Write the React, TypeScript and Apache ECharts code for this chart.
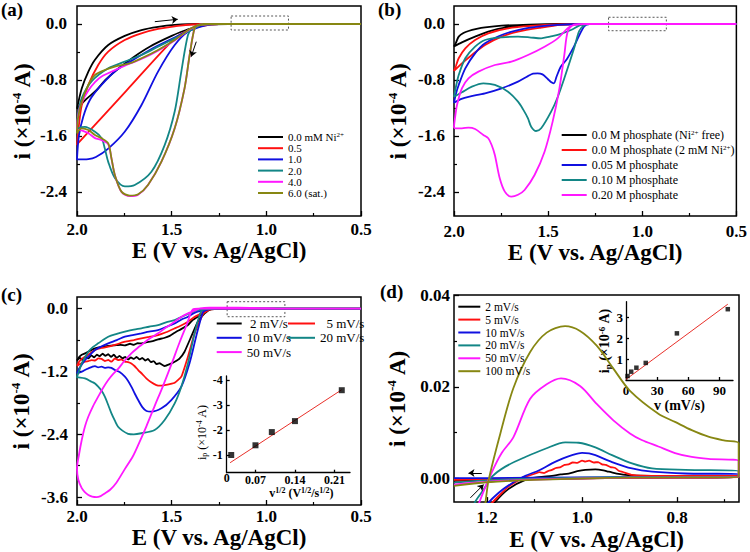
import React, { useEffect, useRef } from 'react';
import * as echarts from 'echarts';

const FONT = 'Liberation Serif';
const BLACK = '#000000';
const RED = '#ff1010';
const BLUE = '#1010e0';
const TEAL = '#138686';
const MAGENTA = '#ff18ff';
const OLIVE = '#878712';

// ---------- panel (a) ----------
const aNames = ['0.0 mM Ni2+', '0.5', '1.0', '2.0', '4.0', '6.0 (sat.)'];
const aColors = [BLACK, RED, BLUE, TEAL, MAGENTA, OLIVE];
const a0 = [[0.5,0],[1.2,0],[1.3,-0.005],[1.423,-0.086],[1.5,-0.17],[1.616,-0.324],[1.7,-0.47],[1.791,-0.657],[1.85,-0.8],[1.896,-0.943],[1.95,-1.07],[2.0,-1.21],[1.975,-0.92],[1.94,-0.68],[1.905,-0.51],[1.835,-0.30],[1.748,-0.17],[1.66,-0.086],[1.572,-0.04],[1.484,-0.014],[1.35,0],[0.5,0]];
const a1 = [[0.5,0],[1.25,0],[1.343,-0.03],[1.42,-0.1],[1.484,-0.205],[1.74,-0.955],[2.0,-1.72],[1.99,-1.45],[1.975,-1.16],[1.94,-0.87],[1.888,-0.586],[1.835,-0.395],[1.748,-0.229],[1.66,-0.133],[1.572,-0.071],[1.484,-0.033],[1.343,0],[0.5,0]];
const a2 = [[0.5,0],[1.25,0],[1.32,-0.02],[1.414,-0.11],[1.484,-0.30],[1.572,-0.68],[1.66,-1.16],[1.748,-1.54],[1.835,-1.78],[1.90,-1.90],[1.94,-1.93],[2.0,-1.935],[1.99,-1.6],[1.967,-1.324],[1.932,-1.086],[1.879,-0.895],[1.791,-0.657],[1.704,-0.514],[1.616,-0.371],[1.493,-0.205],[1.388,-0.062],[1.33,0],[0.5,0]];
const a3 = [[0.5,0],[1.25,0],[1.36,-0.02],[1.39,-0.06],[1.414,-0.157],[1.449,-0.68],[1.484,-1.25],[1.537,-1.73],[1.607,-2.11],[1.695,-2.30],[1.747,-2.32],[1.80,-2.20],[1.835,-1.97],[1.853,-1.78],[1.87,-1.63],[1.905,-1.54],[1.958,-1.47],[1.993,-1.49],[2.0,-1.52],[1.995,-1.3],[1.975,-1.06],[1.923,-0.82],[1.835,-0.633],[1.748,-0.538],[1.66,-0.443],[1.572,-0.324],[1.484,-0.205],[1.379,-0.062],[1.33,0],[0.5,0]];
const a4 = [[0.5,0],[1.25,0],[1.36,-0.02],[1.379,-0.062],[1.405,-0.443],[1.432,-0.919],[1.484,-1.49],[1.554,-1.967],[1.625,-2.30],[1.677,-2.44],[1.721,-2.46],[1.765,-2.40],[1.80,-2.16],[1.818,-1.92],[1.835,-1.72],[1.87,-1.66],[1.905,-1.63],[1.94,-1.56],[1.975,-1.52],[2.0,-1.5],[1.99,-1.25],[1.975,-1.12],[1.94,-0.95],[1.905,-0.83],[1.87,-0.75],[1.80,-0.66],[1.75,-0.6],[1.66,-0.5],[1.572,-0.38],[1.484,-0.235],[1.4,-0.07],[1.33,0],[0.5,0]];
const a5 = [[0.5,0],[1.25,0],[1.36,-0.02],[1.379,-0.062],[1.405,-0.443],[1.432,-0.919],[1.484,-1.49],[1.554,-1.967],[1.625,-2.30],[1.677,-2.433],[1.721,-2.452],[1.765,-2.395],[1.80,-2.157],[1.818,-1.919],[1.835,-1.705],[1.87,-1.633],[1.905,-1.586],[1.94,-1.514],[1.975,-1.49],[2.0,-1.56],[1.995,-1.35],[1.975,-1.11],[1.94,-0.871],[1.905,-0.729],[1.853,-0.657],[1.80,-0.61],[1.72,-0.56],[1.66,-0.49],[1.572,-0.371],[1.484,-0.229],[1.397,-0.062],[1.33,0],[0.5,0]];
const aCurves = [a0, a1, a2, a3, a4, a5];
const aBox = [[1.186,0.114],[0.883,0.114],[0.883,-0.086],[1.186,-0.086],[1.186,0.114]];
const aArrow1 = [[1.589,0.033],[1.468,0.067]];
const aArrow2 = [[1.370,-0.253],[1.397,-0.467]];

// ---------- panel (b) ----------
const bNames = ['0.0 M phosphate (Ni2+ free)', '0.0 M phosphate (2 mM Ni2+)', '0.05 M phosphate', '0.10 M phosphate', '0.20 M phosphate'];
const bColors = [BLACK, RED, BLUE, TEAL, MAGENTA];
const b0 = [[0.5,0],[1.3,0],[1.45,-0.005],[1.625,-0.024],[1.73,-0.052],[1.818,-0.11],[1.888,-0.181],[1.958,-0.262],[2.0,-0.32],[1.99,-0.27],[1.975,-0.18],[1.95,-0.13],[1.923,-0.10],[1.88,-0.07],[1.835,-0.048],[1.747,-0.024],[1.6,-0.008],[1.45,0],[0.5,0]];
const b1 = [[0.5,0],[1.3,0],[1.432,-0.014],[1.537,-0.052],[1.66,-0.11],[1.747,-0.181],[1.835,-0.30],[1.905,-0.443],[1.958,-0.562],[2.0,-0.671],[1.99,-0.6],[1.975,-0.49],[1.94,-0.348],[1.888,-0.229],[1.818,-0.133],[1.713,-0.062],[1.572,-0.024],[1.449,-0.005],[1.35,0],[0.5,0]];
const b2 = [[0.5,0],[1.28,0],[1.31,-0.038],[1.363,-0.324],[1.40,-0.5],[1.433,-0.61],[1.455,-0.75],[1.47,-0.848],[1.485,-0.83],[1.502,-0.786],[1.53,-0.72],[1.556,-0.705],[1.58,-0.71],[1.607,-0.745],[1.66,-0.824],[1.747,-0.919],[1.835,-0.99],[1.923,-1.04],[1.96,-1.07],[2.0,-1.124],[1.99,-1.0],[1.975,-0.871],[1.94,-0.633],[1.888,-0.419],[1.835,-0.276],[1.747,-0.157],[1.66,-0.086],[1.554,-0.038],[1.449,-0.014],[1.3,0],[0.5,0]];
const b3 = [[0.5,0],[1.28,0],[1.31,-0.02],[1.335,-0.1],[1.362,-0.348],[1.414,-0.776],[1.45,-1.05],[1.484,-1.252],[1.537,-1.49],[1.564,-1.529],[1.59,-1.467],[1.607,-1.348],[1.633,-1.22],[1.66,-1.11],[1.713,-0.967],[1.783,-0.871],[1.844,-0.848],[1.905,-0.895],[1.958,-0.976],[2.0,-1.04],[1.99,-0.9],[1.975,-0.729],[1.94,-0.49],[1.888,-0.324],[1.835,-0.229],[1.747,-0.19],[1.66,-0.181],[1.6,-0.19],[1.537,-0.205],[1.49,-0.18],[1.449,-0.157],[1.379,-0.086],[1.326,-0.014],[1.29,0],[0.5,0]];
const b4 = [[0.5,0],[1.3,0],[1.362,-0.01],[1.395,-0.1],[1.414,-0.443],[1.44,-0.919],[1.476,-1.395],[1.519,-1.824],[1.572,-2.157],[1.625,-2.371],[1.66,-2.44],[1.695,-2.467],[1.73,-2.395],[1.757,-2.205],[1.783,-1.871],[1.80,-1.729],[1.818,-1.633],[1.844,-1.586],[1.888,-1.5],[1.923,-1.48],[1.958,-1.49],[1.993,-1.49],[2.0,-1.47],[1.995,-1.35],[1.984,-1.157],[1.958,-0.919],[1.923,-0.776],[1.87,-0.681],[1.783,-0.586],[1.695,-0.538],[1.607,-0.443],[1.519,-0.324],[1.449,-0.205],[1.397,-0.062],[1.362,-0.014],[1.3,0],[0.5,0]];
const bCurves = [b0, b1, b2, b3, b4];
const bBox = [[1.179,0.096],[0.872,0.096],[0.872,-0.096],[1.179,-0.096],[1.179,0.096]];

// ---------- panel (c) ----------
const cNames = ['2 mV/s', '5 mV/s', '10 mV/s', '20 mV/s', '50 mV/s'];
const cColors = [BLACK, RED, BLUE, TEAL, MAGENTA];
const c0 = [[0.5,0],[1.25,0],[1.3,-0.02],[1.326,-0.089],[1.362,-0.248],[1.397,-0.535],[1.432,-0.822],[1.46,-0.96],[1.484,-1.013],[1.51,-1.06],[1.537,-1.096],[1.55,-1.07],[1.565,-1.04],[1.58,-1.06],[1.595,-1.0],[1.61,-1.02],[1.625,-0.96],[1.64,-0.99],[1.655,-0.94],[1.67,-0.97],[1.685,-0.92],[1.70,-0.96],[1.715,-0.93],[1.73,-0.97],[1.745,-0.92],[1.76,-0.95],[1.775,-0.90],[1.79,-0.94],[1.805,-0.88],[1.82,-0.92],[1.835,-0.87],[1.85,-0.90],[1.865,-0.86],[1.88,-0.91],[1.895,-0.88],[1.91,-0.93],[1.925,-0.89],[1.94,-0.95],[1.955,-0.92],[1.97,-0.98],[1.985,-0.94],[2.0,-0.99],[1.99,-0.93],[1.975,-0.88],[1.958,-0.854],[1.93,-0.80],[1.905,-0.76],[1.87,-0.73],[1.835,-0.71],[1.80,-0.70],[1.77,-0.69],[1.747,-0.70],[1.72,-0.67],[1.70,-0.69],[1.68,-0.66],[1.66,-0.662],[1.63,-0.64],[1.60,-0.62],[1.572,-0.586],[1.54,-0.56],[1.51,-0.52],[1.484,-0.459],[1.45,-0.39],[1.414,-0.312],[1.39,-0.22],[1.362,-0.153],[1.326,-0.057],[1.28,-0.005],[1.2,0],[0.5,0]];
const c1 = [[0.5,0],[1.25,0],[1.3,-0.02],[1.332,-0.089],[1.379,-0.471],[1.414,-0.917],[1.449,-1.299],[1.484,-1.414],[1.51,-1.44],[1.537,-1.459],[1.56,-1.47],[1.581,-1.459],[1.61,-1.40],[1.634,-1.331],[1.655,-1.25],[1.677,-1.172],[1.695,-1.10],[1.713,-1.045],[1.73,-1.02],[1.747,-1.013],[1.765,-0.97],[1.783,-0.981],[1.80,-0.95],[1.818,-1.013],[1.835,-0.98],[1.853,-1.0],[1.87,-0.96],[1.888,-0.949],[1.905,-0.99],[1.923,-0.981],[1.94,-1.0],[1.958,-1.013],[1.975,-1.04],[1.993,-1.076],[2.0,-1.09],[1.99,-1.02],[1.975,-0.96],[1.958,-0.917],[1.93,-0.85],[1.905,-0.79],[1.87,-0.75],[1.835,-0.726],[1.79,-0.68],[1.747,-0.631],[1.70,-0.60],[1.66,-0.567],[1.62,-0.54],[1.572,-0.503],[1.53,-0.45],[1.484,-0.376],[1.45,-0.32],[1.414,-0.248],[1.38,-0.16],[1.343,-0.089],[1.3,-0.01],[1.2,0],[0.5,0]];
const c2 = [[0.5,0],[1.25,0],[1.3,-0.01],[1.332,-0.057],[1.343,-0.153],[1.371,-0.535],[1.406,-1.045],[1.449,-1.49],[1.502,-1.745],[1.554,-1.904],[1.607,-1.968],[1.633,-1.955],[1.655,-1.88],[1.677,-1.745],[1.695,-1.62],[1.713,-1.49],[1.73,-1.38],[1.747,-1.299],[1.775,-1.21],[1.80,-1.172],[1.818,-1.13],[1.835,-1.121],[1.853,-1.13],[1.87,-1.108],[1.888,-1.12],[1.905,-1.096],[1.92,-1.11],[1.94,-1.14],[1.958,-1.17],[1.975,-1.204],[2.0,-1.236],[1.99,-1.15],[1.975,-1.07],[1.958,-0.981],[1.93,-0.88],[1.905,-0.79],[1.87,-0.72],[1.835,-0.662],[1.79,-0.6],[1.747,-0.535],[1.70,-0.5],[1.66,-0.471],[1.62,-0.44],[1.572,-0.408],[1.53,-0.35],[1.484,-0.28],[1.45,-0.21],[1.414,-0.153],[1.38,-0.08],[1.343,-0.038],[1.3,0],[0.5,0]];
const c3 = [[0.5,0],[1.25,0],[1.32,-0.01],[1.343,-0.038],[1.379,-0.471],[1.414,-1.045],[1.449,-1.49],[1.484,-1.809],[1.537,-2.127],[1.59,-2.318],[1.66,-2.38],[1.70,-2.40],[1.73,-2.39],[1.76,-2.33],[1.783,-2.255],[1.80,-2.14],[1.818,-2.0],[1.835,-1.84],[1.853,-1.682],[1.87,-1.57],[1.888,-1.49],[1.905,-1.43],[1.923,-1.395],[1.958,-1.331],[1.993,-1.312],[2.0,-1.31],[1.99,-1.2],[1.975,-1.045],[1.958,-0.93],[1.94,-0.822],[1.915,-0.73],[1.888,-0.662],[1.835,-0.535],[1.79,-0.48],[1.747,-0.439],[1.70,-0.40],[1.66,-0.376],[1.62,-0.345],[1.572,-0.312],[1.53,-0.26],[1.484,-0.217],[1.45,-0.16],[1.414,-0.102],[1.362,-0.025],[1.3,0],[0.5,0]];
const c4 = [[0.5,0],[1.3,0],[1.36,0],[1.388,-0.013],[1.42,-0.3],[1.459,-0.65],[1.50,-1.05],[1.546,-1.478],[1.59,-1.86],[1.633,-2.242],[1.67,-2.55],[1.704,-2.815],[1.75,-3.08],[1.792,-3.325],[1.825,-3.46],[1.853,-3.53],[1.875,-3.58],[1.897,-3.6],[1.92,-3.59],[1.94,-3.56],[1.96,-3.5],[1.975,-3.43],[1.993,-3.27],[2.0,-3.05],[1.99,-2.8],[1.975,-2.51],[1.958,-2.25],[1.94,-2.06],[1.915,-1.86],[1.888,-1.68],[1.86,-1.5],[1.835,-1.363],[1.81,-1.25],[1.783,-1.15],[1.75,-1.0],[1.713,-0.854],[1.68,-0.75],[1.66,-0.694],[1.62,-0.58],[1.572,-0.471],[1.53,-0.36],[1.484,-0.248],[1.45,-0.16],[1.414,-0.089],[1.379,-0.038],[1.35,0.005],[1.3,0.02],[1.15,0.02],[1.0,0.01],[0.9,0],[0.5,0]];
const cCurves = [c0, c1, c2, c3, c4];
const cBox = [[1.207,0.134],[0.902,0.134],[0.902,-0.153],[1.207,-0.153],[1.207,0.134]];
const cInsetX = [0.027, 0.070, 0.099, 0.140, 0.223];
const cInsetY = [-1.0, -1.39, -1.92, -2.36, -3.6];
const cFitX = [0.025, 0.223];
const cFitY = [-0.69, -3.62];

// ---------- panel (d) ----------
const dNames = ['2 mV/s', '5 mV/s', '10 mV/s', '20 mV/s', '50 mV/s', '100 mV/s'];
const dColors = [BLACK, RED, BLUE, TEAL, MAGENTA, OLIVE];
const d0 = [[1.2,-0.0075],[1.1832,-0.00513],[1.1551,-0.0023],[1.1193,-0.0003],[1.0912,0.0003],[1.0632,0.0006],[1.045,0.0009],[1.0281,0.0011],[1.01,0.0016],[0.993,0.0019],[0.9719,0.002],[0.955,0.0018],[0.9439,0.0015],[0.9088,0.0008],[0.8526,0.0006],[0.6702,0.0006],[0.6702,0.0003],[0.8,0.0002],[0.95,0.0001],[1.1,-0.0001],[1.2,-0.0003],[1.2695,-0.0005]];
const d1 = [[1.2,-0.0075],[1.1895,-0.0053],[1.1544,-0.0017],[1.1263,0.0001],[1.0982,0.0011],[1.09,0.0014],[1.08,0.0012],[1.07,0.0017],[1.0632,0.0019],[1.055,0.0023],[1.045,0.0025],[1.037,0.003],[1.0281,0.0031],[1.02,0.0035],[1.01,0.0034],[1.0,0.0039],[0.993,0.0037],[0.985,0.0039],[0.975,0.0035],[0.966,0.0036],[0.9579,0.0031],[0.95,0.003],[0.94,0.0025],[0.93,0.0023],[0.9228,0.0017],[0.91,0.0013],[0.8947,0.0008],[0.8526,0.0006],[0.6702,0.0006],[0.6702,0.0003],[0.8,0.0002],[0.95,0.0001],[1.1,-0.0001],[1.2,-0.0002],[1.2695,-0.0003]];
const d2 = [[1.215,-0.008],[1.2035,-0.006],[1.1754,-0.0031],[1.1474,-0.001],[1.1193,0.0006],[1.09,0.0018],[1.0632,0.0033],[1.04,0.0044],[1.021,0.0051],[1.0,0.0056],[0.985,0.0055],[0.9719,0.0051],[0.9368,0.0036],[0.8947,0.0022],[0.8526,0.0015],[0.7825,0.0011],[0.6702,0.001],[0.6702,0.0004],[0.9,0.0003],[1.1,0.0002],[1.2,0.0001],[1.2695,0.0001]];
const d3 = [[1.235,-0.008],[1.2253,-0.00513],[1.2071,-0.0024],[1.1895,0.0004],[1.1614,0.0026],[1.1193,0.0047],[1.0772,0.0065],[1.0351,0.0079],[1.007,0.0078],[0.9719,0.0068],[0.9368,0.0051],[0.8947,0.0033],[0.8526,0.0022],[0.7825,0.0019],[0.6702,0.0017],[0.6702,0.0004],[0.9,0.0003],[1.1,0.0],[1.2,-0.0004],[1.2695,-0.0009]];
const d4 = [[1.23,-0.012],[1.2183,-0.00585],[1.1902,0.00128],[1.1691,0.00556],[1.1446,0.00898],[1.1095,0.01733],[1.0744,0.02053],[1.0442,0.02182],[1.0042,0.02018],[0.9691,0.01626],[0.934,0.01269],[0.899,0.00984],[0.8744,0.00841],[0.8393,0.00699],[0.8042,0.00556],[0.769,0.00471],[0.734,0.00428],[0.6702,0.00385],[0.6702,0.0003],[0.9,0.0002],[1.1,-0.0002],[1.2,-0.0007],[1.2695,-0.0013]];
const d5 = [[1.215,-0.012],[1.2042,-0.00585],[1.1965,-0.0003],[1.1719,0.00984],[1.1446,0.01968],[1.1095,0.02752],[1.0744,0.0318],[1.0358,0.0332],[1.0042,0.03216],[0.9691,0.02895],[0.934,0.02396],[0.899,0.01911],[0.8393,0.01412],[0.8042,0.01234],[0.769,0.01055],[0.734,0.00913],[0.699,0.00827],[0.6702,0.0077],[0.6702,0.0003],[0.9,0.0002],[1.1,-0.0003],[1.2,-0.0008],[1.2695,-0.0016]];
const dCurves = [d0, d1, d2, d3, d4, d5];
const dArrow1 = [[1.211,0.0012],[1.239,0.0012]];
const dArrow2 = [[1.235,-0.0042],[1.207,-0.0013]];
const dInsetX = [1.5, 5, 10, 19, 49, 98];
const dInsetY = [0.19, 0.40, 0.59, 0.82, 2.24, 3.40];
const dFitX = [0, 98];
const dFitY = [0.03, 3.64];

// ---------- tick labels ----------
const abXMajor = [2.0, 1.5, 1.0, 0.5];
const abXMinor = [1.75, 1.25, 0.75];
const abYMajor = [0, -0.8, -1.6, -2.4];
const abYMinor = [-0.4, -1.2, -2.0];
const cYMajor = [0, -1.2, -2.4, -3.6];
const cYMinor = [-0.6, -1.8, -3.0];
const dXMajor = [1.2, 1.0, 0.8];
const dXMinor = [1.1, 0.9, 0.7];
const dYMajor = [0, 0.02, 0.04];
const dYMinor = [0.01, 0.03];
const ciXMajor = [0.07, 0.14, 0.21];
const ciYMajor = [-1, -2, -3, -4];
const diXMajor = [0, 30, 60, 90];
const diYMajor = [1, 2, 3];

const fmt1 = (v: number) => v.toFixed(1);
const fmt2 = (v: number) => v.toFixed(2);
const fmtI = (v: number) => String(Math.round(v));

const supRich = (size: number, lh: number, weight = 'bold') => ({
  s: { fontSize: size, fontWeight: weight, fontFamily: FONT, color: '#000', verticalAlign: 'top', lineHeight: lh },
  b: { fontSize: size, fontWeight: weight, fontFamily: FONT, color: '#000', verticalAlign: 'bottom', lineHeight: lh },
});

type Ax = {
  grid: number; min: number; max: number; inverse?: boolean;
  major: number[]; minor?: number[]; fmt: (v: number) => string;
  margin: number; size: number; weight?: string;
  name?: string; nameGap?: number; nameSize?: number; nameWeight?: string; rich?: any; namePad?: number[];
  line?: boolean; tickLen?: number;
};

function axes(kind: 'x' | 'y', c: Ax) {
  const pos = kind === 'x' ? 'bottom' : 'left';
  const main: any = {
    type: 'value', gridIndex: c.grid, min: c.min, max: c.max, inverse: !!c.inverse, position: pos,
    axisLine: { show: !!c.line, onZero: false, lineStyle: { color: '#000', width: 1.3 } },
    axisTick: { show: true, inside: true, length: c.tickLen ?? 5, customValues: c.major, lineStyle: { color: '#000', width: 1.3 } },
    axisLabel: { show: true, customValues: c.major, formatter: c.fmt, margin: c.margin, fontFamily: FONT, fontSize: c.size, fontWeight: c.weight ?? 'bold', color: '#000' },
    splitLine: { show: false },
    name: c.name ?? '', nameLocation: 'middle', nameGap: c.nameGap ?? 0,
    nameTextStyle: { fontFamily: FONT, fontSize: c.nameSize ?? 23, fontWeight: c.nameWeight ?? 'bold', color: '#000', lineHeight: (c.nameSize ?? 23) + 1, rich: c.rich, padding: c.namePad ?? 0 },
  };
  const out = [main];
  if (c.minor) {
    out.push({
      type: 'value', gridIndex: c.grid, min: c.min, max: c.max, inverse: !!c.inverse, position: pos,
      axisLine: { show: false, onZero: false },
      axisTick: { show: true, inside: true, length: 3, customValues: c.minor, lineStyle: { color: '#000', width: 1.2 } },
      axisLabel: { show: false }, splitLine: { show: false },
    });
  }
  return out;
}

function curve(name: string, data: number[][], color: string, xi: number, yi: number, smooth: number = 0.3, width = 1.8) {
  return {
    type: 'line', name, data, xAxisIndex: xi, yAxisIndex: yi, showSymbol: false, symbol: 'none', smooth,
    lineStyle: { color, width }, itemStyle: { color }, silent: true, animation: false, clip: true, z: 3,
    emphasis: { disabled: true },
  };
}

function box(data: number[][], xi: number, yi: number) {
  return {
    type: 'line', name: '_box', data, xAxisIndex: xi, yAxisIndex: yi, showSymbol: false, symbol: 'none',
    lineStyle: { color: '#444', width: 0.9, type: [2, 2] }, silent: true, animation: false, z: 2,
  };
}

function arrow(coords: number[][], xi: number, yi: number) {
  return {
    type: 'lines', coordinateSystem: 'cartesian2d', xAxisIndex: xi, yAxisIndex: yi,
    symbol: ['none', 'arrow'], symbolSize: 6, silent: true, animation: false, z: 6,
    lineStyle: { color: '#000', width: 1, opacity: 1, curveness: 0 },
    data: [{ coords }],
  };
}

function legend(left: number, top: number, names: string[], o: { w: number; gap: number; size: number; lh: number; fmt?: (n: string) => string }) {
  return {
    show: true, orient: 'vertical', left, top, padding: 0, itemWidth: o.w, itemHeight: 2, itemGap: o.gap,
    icon: 'rect', data: names, selectedMode: false,
    formatter: o.fmt ?? ((n: string) => n.replace('Ni2+', 'Ni{s|2+}')),
    textStyle: {
      fontFamily: FONT, fontSize: o.size, color: '#000', lineHeight: o.lh,
      rich: { s: { fontSize: Math.round(o.size * 0.62), fontFamily: FONT, color: '#000', verticalAlign: 'top', lineHeight: 7 } },
    },
  };
}

const Y_NAME = 'i (×10{s|-4} A)';
const X_NAME = 'E (V vs. Ag/AgCl)';

function buildOption() {
  const grid = [
    { left: 77, top: 6, width: 284, height: 210, show: true, borderColor: '#000', borderWidth: 1.5 },
    { left: 454, top: 6, width: 285, height: 210, show: true, borderColor: '#000', borderWidth: 1.5 },
    { left: 77, top: 297, width: 284, height: 208, show: true, borderColor: '#000', borderWidth: 1.5 },
    { left: 454, top: 295, width: 285, height: 211, show: true, borderColor: '#000', borderWidth: 1.5 },
    { left: 226.7, top: 376, width: 123.3, height: 96.7, show: false },
    { left: 626, top: 301.7, width: 107, height: 78.3, show: false },
  ];
  const mainRich = supRich(13, 13);
  const xAxis = [
    ...axes('x', { grid: 0, min: 0.5, max: 2.0, inverse: true, major: abXMajor, minor: abXMinor, fmt: fmt1, margin: 5, size: 17, name: X_NAME, nameGap: 20 }),
    ...axes('x', { grid: 1, min: 0.5, max: 2.0, inverse: true, major: abXMajor, minor: abXMinor, fmt: fmt1, margin: 7, size: 17, name: X_NAME, nameGap: 22 }),
    ...axes('x', { grid: 2, min: 0.5, max: 2.0, inverse: true, major: abXMajor, minor: abXMinor, fmt: fmt1, margin: 3, size: 17, name: X_NAME, nameGap: 18 }),
    ...axes('x', { grid: 3, min: 0.6695, max: 1.2695, inverse: true, major: dXMajor, minor: dXMinor, fmt: fmt1, margin: 7, size: 17, name: X_NAME, nameGap: 24 }),
    ...axes('x', { grid: 4, min: 0.019, max: 0.2376, major: ciXMajor, fmt: fmt2, margin: 1, size: 12, line: true, tickLen: 3, name: 'v{s|1/2} (V{s|1/2}/s{s|1/2})', nameGap: 9, nameSize: 12, rich: supRich(8, 8), namePad: [0, 0, 0, 26] }),
    ...axes('x', { grid: 5, min: 0, max: 103, major: diXMajor, fmt: fmtI, margin: 4, size: 13, line: true, tickLen: 3, name: 'v (mV/s)', nameGap: 15, nameSize: 14 }),
  ];
  const yAxis = [
    ...axes('y', { grid: 0, min: -2.743, max: 0.257, major: abYMajor, minor: abYMinor, fmt: fmt1, margin: 10, size: 17, name: Y_NAME, nameGap: 43, rich: mainRich }),
    ...axes('y', { grid: 1, min: -2.743, max: 0.257, major: abYMajor, minor: abYMinor, fmt: fmt1, margin: 9, size: 17, name: Y_NAME, nameGap: 44, rich: mainRich }),
    ...axes('y', { grid: 2, min: -3.751, max: 0.2236, major: cYMajor, minor: cYMinor, fmt: fmt1, margin: 9, size: 17, name: Y_NAME, nameGap: 44, rich: mainRich }),
    ...axes('y', { grid: 3, min: -0.00513, max: 0.04, major: dYMajor, minor: dYMinor, fmt: fmt2, margin: 4, size: 17, name: Y_NAME, nameGap: 45, rich: mainRich }),
    ...axes('y', { grid: 4, min: -4.17, max: -0.29, inverse: true, major: ciYMajor, fmt: fmtI, margin: 4, size: 12, line: true, tickLen: 3, name: 'i{b|p} (×10{s|-4} A)', nameGap: 12, nameSize: 12, nameWeight: 'normal', rich: supRich(8, 8, 'normal'), namePad: [0, 16, 0, 0] }),
    ...axes('y', { grid: 5, min: 0, max: 3.76, major: diYMajor, fmt: fmtI, margin: 3, size: 13, line: true, tickLen: 3, name: 'i{b|p} (×10{s|-6} A)', nameGap: 14, nameSize: 14, rich: supRich(9, 9) }),
  ];
  const series: any[] = [];
  aCurves.forEach((d, k) => series.push(curve(aNames[k], d, aColors[k], 0, 0)));
  series.push(box(aBox, 0, 0));
  series.push(arrow(aArrow1, 0, 0));
  series.push(arrow(aArrow2, 0, 0));
  bCurves.forEach((d, k) => series.push(curve(bNames[k], d, bColors[k], 2, 2)));
  series.push(box(bBox, 2, 2));
  cCurves.forEach((d, k) => series.push(curve(cNames[k], d, cColors[k], 4, 4, k < 2 ? 0.1 : 0.3)));
  series.push(box(cBox, 4, 4));
  dCurves.forEach((d, k) => series.push(curve(dNames[k], d, dColors[k], 6, 6, k === 1 ? 0.1 : 0.3)));
  series.push(arrow(dArrow1, 6, 6));
  series.push(arrow(dArrow2, 6, 6));
  series.push({
    type: 'line', name: '_fitc', data: cFitX.map((x, i) => [x, cFitY[i]]), xAxisIndex: 8, yAxisIndex: 8,
    showSymbol: false, symbol: 'none', lineStyle: { color: '#e8302a', width: 1 }, silent: true, z: 3,
  });
  series.push({
    type: 'scatter', name: '_ptc', data: cInsetX.map((x, i) => [x, cInsetY[i]]), xAxisIndex: 8, yAxisIndex: 8,
    symbol: 'rect', symbolSize: 6, itemStyle: { color: '#000' }, silent: true, z: 4,
  });
  series.push({
    type: 'line', name: '_fitd', data: dFitX.map((x, i) => [x, dFitY[i]]), xAxisIndex: 9, yAxisIndex: 9,
    showSymbol: false, symbol: 'none', lineStyle: { color: '#e8302a', width: 1 }, silent: true, z: 3,
  });
  series.push({
    type: 'scatter', name: '_ptd', data: dInsetX.map((x, i) => [x, dInsetY[i]]), xAxisIndex: 9, yAxisIndex: 9,
    symbol: 'rect', symbolSize: 4.5, itemStyle: { color: '#000' }, silent: true, z: 4,
  });

  const legendArr = [
    legend(258, 131.5, aNames, { w: 25, gap: 0.2, size: 11, lh: 11 }),
    legend(561.7, 129, bNames, { w: 25, gap: 3, size: 12, lh: 12 }),
    legend(216.7, 317, ['2 mV/s', '10 mV/s', '50 mV/s'], { w: 25, gap: 1.3, size: 13, lh: 13, fmt: (n: string) => (n === '2 mV/s' ? '\u00a02 mV/s' : n) }),
    legend(288, 317, ['5 mV/s', '20 mV/s'], { w: 27, gap: 1.3, size: 13, lh: 13, fmt: (n: string) => (n === '5 mV/s' ? '\u00a0\u00a05 mV/s' : n) }),
    legend(458.3, 300.7, dNames, { w: 22, gap: 0.9, size: 11.5, lh: 11.5 }),
  ];

  const labelFont = 'bold 19px "Liberation Serif"';
  const graphic = [
    { type: 'text', left: 1, top: 0, style: { text: '(a)', font: labelFont, fill: '#000' } },
    { type: 'text', left: 378, top: 0, style: { text: '(b)', font: labelFont, fill: '#000' } },
    { type: 'text', left: 1, top: 285, style: { text: '(c)', font: labelFont, fill: '#000' } },
    { type: 'text', left: 380, top: 282, style: { text: '(d)', font: labelFont, fill: '#000' } },
    { type: 'text', left: 223.7, top: 471.5, style: { text: '0', font: 'bold 12px "Liberation Serif"', fill: '#000' } },
  ];

  return {
    animation: false,
    backgroundColor: '#ffffff',
    grid, xAxis, yAxis, series, legend: legendArr, graphic,
  };
}

export default function App() {
  const ref = useRef<HTMLDivElement>(null);
  useEffect(() => {
    if (!ref.current) return;
    const chart = echarts.init(ref.current, null, { renderer: 'svg' });
    chart.setOption(buildOption() as any);
    return () => chart.dispose();
  }, []);
  return <div ref={ref} style={{ position: 'fixed', left: 0, top: 0, width: 750, height: 552, background: '#fff' }} />;
}
